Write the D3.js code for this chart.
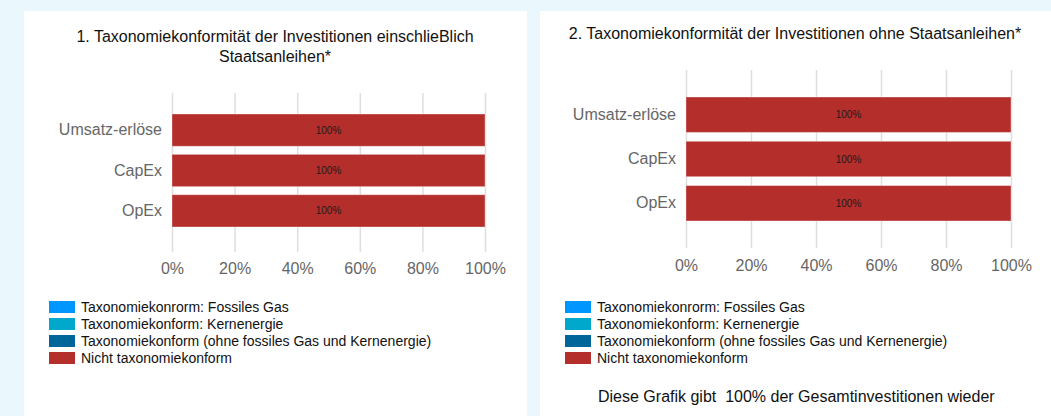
<!DOCTYPE html>
<html>
<head>
<meta charset="utf-8">
<script src="https://cdn.jsdelivr.net/npm/d3@7"></script>
<style>
  body { margin: 0; background: #eaf7fd; }
  svg { display: block; font-family: "Liberation Sans", Arial, sans-serif; }
</style>
</head>
<body>
<svg id="chart" width="1051" height="416"></svg>
<script>
// Daten
const categories = ['Umsatz-erlöse', 'CapEx', 'OpEx']
const seriesNames = [
    'Taxonomiekonrorm: Fossiles Gas',
    'Taxonomiekonform: Kernenergie',
    'Taxonomiekonform (ohne fossiles Gas und Kernenergie)',
    'Nicht taxonomiekonform'
]
const seriesKeys = ['gas', 'nuclear', 'aligned', 'notAligned']
const seriesColors = ['#0096ff', '#00a8cc', '#006699', '#b42f2c']
const xTicks = [0, 20, 40, 60, 80, 100]

// Diagramm 1: einschließlich Staatsanleihen
const gas1 = [0, 0, 0]
const nuclear1 = [0, 0, 0]
const aligned1 = [0, 0, 0]
const notAligned1 = [100, 100, 100]

// Diagramm 2: ohne Staatsanleihen
const gas2 = [0, 0, 0]
const nuclear2 = [0, 0, 0]
const aligned2 = [0, 0, 0]
const notAligned2 = [100, 100, 100]

const title1 = ['1. Taxonomiekonformität der Investitionen einschlieBlich', 'Staatsanleihen*']
const title2 = ['2. Taxonomiekonformität der Investitionen ohne Staatsanleihen*']
const noteText = 'Diese Grafik gibt\u00a0 100% der Gesamtinvestitionen wieder'

function buildRows(gas, nuclear, aligned, notAligned) {
    return categories.map((c, i) => ({
        category: c, gas: gas[i], nuclear: nuclear[i], aligned: aligned[i], notAligned: notAligned[i]
    }))
}

const svg = d3.select('#chart')

// Hintergrund + Panels
svg.append('rect').attr('width', 1051).attr('height', 416).attr('fill', '#eaf7fd')
svg.append('rect').attr('x', 24).attr('y', 11).attr('width', 503).attr('height', 405).attr('fill', '#fff')
svg.append('rect').attr('x', 540).attr('y', 11).attr('width', 511).attr('height', 405).attr('fill', '#fff')

function drawPanel(cfg) {
    const rows = buildRows(...cfg.values)
    const stacked = d3.stack().keys(seriesKeys)(rows)

    const xScale = d3.scaleLinear([0, 100], [cfg.x0, cfg.x1])
    // Balkenbereich, Gitter läuft darüber hinaus
    const yScale = d3.scaleBand().domain(categories)
        .range([cfg.barTop, cfg.barBottom]).paddingInner(0.2).paddingOuter(0)

    const g = svg.append('g')

    // Titel
    const title = g.append('text')
        .attr('text-anchor', 'middle')
        .style('font-size', '16px').style('fill', '#111')
    cfg.title.forEach((line, i) => {
        title.append('tspan').attr('x', cfg.titleX).attr('y', cfg.titleY + i * 20).text(line)
    })

    // x Achse + Gitter
    const xAxis = d3.axisBottom(xScale).tickValues(xTicks)
        .tickFormat(d => d + '%')
        .tickSizeInner(-(cfg.y1 - cfg.y0)).tickSizeOuter(0).tickPadding(cfg.tickPad)
    const xAxisDraw = g.append('g').attr('transform', `translate(0,${cfg.y1})`).call(xAxis)
    xAxisDraw.select('.domain').remove()
    xAxisDraw.selectAll('line').attr('stroke', '#dedede').attr('stroke-width', 1.5)
    xAxisDraw.selectAll('text').style('font-size', '16px').style('fill', '#666')
        .style('font-family', '"Liberation Sans", Arial, sans-serif')

    // y Achse
    const yAxis = d3.axisLeft(yScale).tickSize(0).tickPadding(10)
    const yAxisDraw = g.append('g').attr('transform', `translate(${cfg.x0},0)`).call(yAxis)
    yAxisDraw.select('.domain').remove()
    yAxisDraw.selectAll('text').style('font-size', '16px').style('fill', '#666')
        .style('font-family', '"Liberation Sans", Arial, sans-serif')

    // Balken
    const layers = g.append('g').selectAll('g').data(stacked).join('g')
        .attr('fill', (d, i) => seriesColors[i])
    layers.selectAll('rect').data(d => d).join('rect')
        .attr('x', d => xScale(d[0]))
        .attr('y', d => yScale(d.data.category))
        .attr('width', d => xScale(d[1]) - xScale(d[0]))
        .attr('height', yScale.bandwidth())
        .attr('stroke', 'rgba(255,255,255,0.35)').attr('stroke-width', 1)

    // Wertbeschriftung
    layers.selectAll('text').data(d => d.filter(v => v[1] - v[0] > 0)).join('text')
        .attr('x', d => (xScale(d[0]) + xScale(d[1])) / 2)
        .attr('y', d => yScale(d.data.category) + yScale.bandwidth() / 2)
        .attr('dy', '0.35em').attr('text-anchor', 'middle')
        .style('font-size', '10px').style('fill', '#1a1a1a')
        .text(d => (d[1] - d[0]) + '%')

    // Legende
    const legend = g.append('g').attr('transform', `translate(${cfg.legendX},${cfg.legendY})`)
    const items = legend.selectAll('g').data(seriesNames).join('g')
        .attr('transform', (d, i) => `translate(0,${i * 17})`)
    items.append('rect').attr('width', 26).attr('height', 12)
        .attr('fill', (d, i) => seriesColors[i])
    items.append('text').attr('x', 32).attr('y', 6).attr('dy', '0.35em')
        .style('font-size', '14px').style('fill', '#111').text(d => d)
}

drawPanel({
    values: [gas1, nuclear1, aligned1, notAligned1],
    title: title1, titleX: 275, titleY: 42,
    x0: 172, x1: 485, y0: 93, y1: 252, barTop: 114, barBottom: 227, tickPad: 11,
    legendX: 49, legendY: 301
})

drawPanel({
    values: [gas2, nuclear2, aligned2, notAligned2],
    title: title2, titleX: 795, titleY: 39,
    x0: 686, x1: 1011, y0: 70, y1: 248, barTop: 97, barBottom: 221, tickPad: 12,
    legendX: 565, legendY: 301
})

svg.append('text').attr('x', 598).attr('y', 402)
    .style('font-size', '16px').style('fill', '#111')
    .text(noteText)
</script>
</body>
</html>
